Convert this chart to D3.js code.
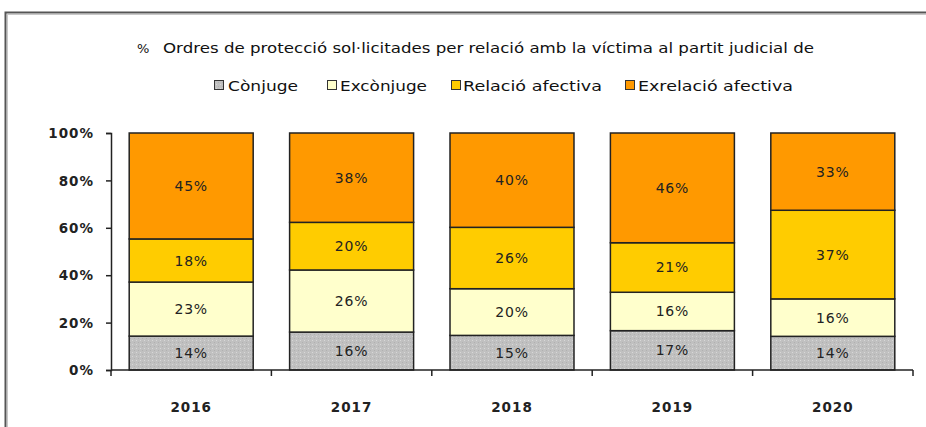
<!DOCTYPE html>
<html><head><meta charset="utf-8">
<script src="https://cdn.jsdelivr.net/npm/d3@7"></script>
<style>body{margin:0;background:#fff}svg{display:block}</style>
</head><body><svg id="c" width="926" height="427"></svg>
<script>
const years = ["2016","2017","2018","2019","2020"];
const seriesNames = ["Cònjuge","Excònjuge","Relació afectiva","Exrelació afectiva"];
const conjuge   = [14.3, 16.0, 14.6, 16.6, 14.2];
const exconjuge = [22.8, 26.2, 19.7, 16.2, 15.8];
const relacio   = [18.2, 20.1, 25.9, 20.9, 37.4];
const exrelacio = [44.7, 37.7, 39.8, 46.3, 32.6];
const yTicks = [0, 20, 40, 60, 80, 100];
const colors = ["#c0c0c0","#ffffcc","#ffcc00","#ff9900"];
const titlePct = "%";
const title = "Ordres de protecció sol·licitades per relació amb la víctima al partit judicial de";

const svg = d3.select("#c");
const defs = svg.append("defs");
const pat = defs.append("pattern").attr("id","dots").attr("patternUnits","userSpaceOnUse")
  .attr("width",4).attr("height",4);
pat.append("rect").attr("width",4).attr("height",4).attr("fill",colors[0]);
pat.append("rect").attr("x",0).attr("y",0).attr("width",1).attr("height",1).attr("fill","#d8d8d8");
pat.append("rect").attr("x",2).attr("y",2).attr("width",1).attr("height",1).attr("fill","#b0b0b0");

// outer frame
svg.append("rect").attr("x",5.5).attr("y",12.5).attr("width",1000).attr("height",1000)
  .attr("fill","none").attr("stroke","#555").attr("stroke-width",2);
svg.append("rect").attr("x",7.5).attr("y",14.5).attr("width",1000).attr("height",1000)
  .attr("fill","none").attr("stroke","#c8c8c8").attr("stroke-width",1);

const font = "'DejaVu Sans', Verdana, sans-serif";
svg.append("text").attr("x",137).attr("y",53).attr("font-family",font).attr("font-size",13)
  .attr("fill","#111").text(titlePct);
svg.append("text").attr("x",163).attr("y",53).attr("font-family",font).attr("font-size",13.5)
  .attr("fill","#111").attr("textLength",651).attr("lengthAdjust","spacingAndGlyphs").text(title);

// legend
const legX = [214, 327, 451, 625];
const legT = [228, 340, 463, 638];
const legW = [70, 87, 139, 155];
seriesNames.forEach((n,i)=>{
  svg.append("rect").attr("x",legX[i]+0.5).attr("y",80.5).attr("width",9).attr("height",9)
    .attr("fill", i===0 ? "url(#dots)" : colors[i]).attr("stroke","#333");
  svg.append("text").attr("x",legT[i]).attr("y",90.5).attr("font-family",font).attr("font-size",14)
    .attr("fill","#111").attr("textLength",legW[i]).attr("lengthAdjust","spacingAndGlyphs").text(n);
});

const x = d3.scaleBand().domain(years).range([111, 913]).paddingInner(0.227).paddingOuter(0.1135);
const y = d3.scaleLinear().domain([0,100]).range([370, 133]);

const data = years.map((yr,i)=>({year:yr, s0:conjuge[i], s1:exconjuge[i], s2:relacio[i], s3:exrelacio[i]}));
const stack = d3.stack().keys(["s0","s1","s2","s3"])(data);

const layers = svg.append("g").selectAll("g").data(stack).join("g")
  .attr("fill",(d,i)=> i===0 ? "url(#dots)" : colors[i]);
layers.selectAll("rect").data(d=>d).join("rect")
  .attr("x",d=>x(d.data.year)).attr("width",x.bandwidth())
  .attr("y",d=>y(d[1])).attr("height",d=>y(d[0])-y(d[1]))
  .attr("stroke","#222").attr("stroke-width",1.5);

const lab = svg.append("g");
stack.forEach(layer=>{
  layer.forEach(d=>{
    lab.append("text").attr("x",x(d.data.year)+x.bandwidth()/2).attr("y",(y(d[0])+y(d[1]))/2+5)
      .attr("text-anchor","middle").attr("font-family",font).attr("font-size",14)
      .attr("letter-spacing",0.8).attr("fill","#222")
      .text(Math.round(d[1]-d[0])+"%");
  });
});

// y axis
const ya = svg.append("g").attr("transform","translate(111,0)")
  .call(d3.axisLeft(y).tickValues(yTicks).tickSize(5).tickFormat(d=>d+"%"));
ya.select(".domain").attr("stroke","#222").attr("stroke-width",1.5);
ya.selectAll(".tick line").attr("stroke","#222").attr("stroke-width",1.5);
ya.selectAll("text").attr("font-family",font).attr("font-size",13.5).attr("font-weight","bold")
  .attr("fill","#222").attr("letter-spacing",1).attr("x",-17).attr("dy","0.35em");

// x axis
const xa = svg.append("g").attr("transform","translate(0,370)");
xa.append("line").attr("x1",111).attr("x2",913).attr("stroke","#222").attr("stroke-width",1.5);
const bounds = years.map(yv=>x(yv)-x.step()*x.paddingInner()/2);
bounds.push(913);
xa.selectAll(".tk").data(bounds).join("line").attr("class","tk")
  .attr("x1",d=>d).attr("x2",d=>d).attr("y1",0).attr("y2",6).attr("stroke","#222").attr("stroke-width",1.5);
xa.selectAll(".yl").data(years).join("text").attr("class","yl")
  .attr("x",d=>x(d)+x.bandwidth()/2).attr("y",42).attr("text-anchor","middle")
  .attr("font-family",font).attr("font-size",13.5).attr("font-weight","bold")
  .attr("fill","#222").attr("letter-spacing",1).text(d=>d);
</script></body></html>
